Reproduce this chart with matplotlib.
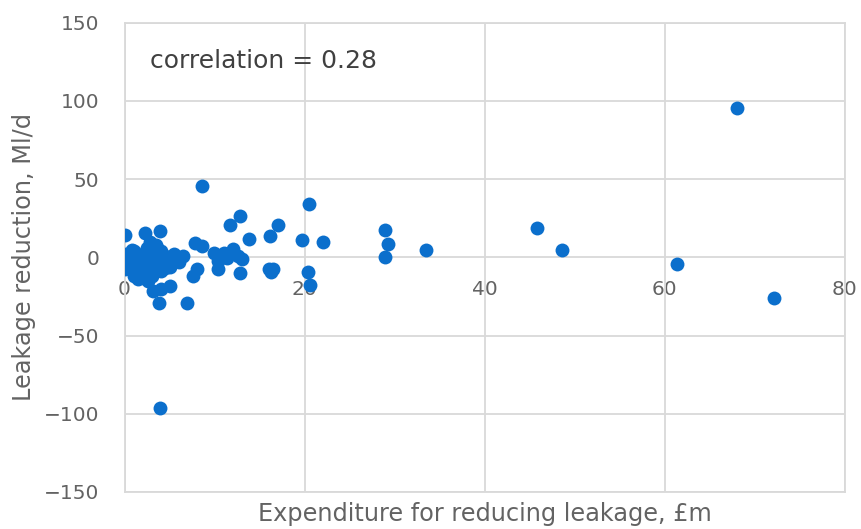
import matplotlib
matplotlib.use('Agg')
import matplotlib.pyplot as plt

# expenditure (GBP m) and leakage reduction (Ml/d)
spend = [20.5, 17.1, 16.2, 19.7, 22.0, 28.9, 29.3, 28.9, 33.5, 45.8, 48.6,
         16.5, 16.3, 20.4, 20.6, 68.0, 61.4, 72.2,
         8.6, 3.9, 12.8, 11.7, 13.8, 0.0, 2.3, 3.9, 7.8, 8.6, 6.5,
         9.9, 11.0, 12.1, 12.6, 10.4, 11.4, 13.0,
         8.0, 7.6, 10.4, 12.8, 16.0,
         3.2, 5.0, 3.8, 6.9, 4.1, 0.0,
         0.2, 0.5, 0.3, 1.0, 1.5, 1.2, 2.0, 2.0, 2.5, 2.5, 3.0, 3.0, 3.0,
         3.5, 3.5, 4.0, 4.0, 4.5, 5.0, 5.0, 5.5, 1.8, 2.2, 1.5, 3.0, 4.0,
         0.8, 2.8, 6.0, 4.5, 1.0, 2.6, 0.4, 3.6]
reduction = [34.4, 20.4, 13.8, 11.1, 10.0, 17.4, 8.3, 0.5, 4.7, 18.6, 4.7,
             -7.2, -9.5, -9.4, -17.8, 95.3, -4.5, -26.0,
             45.4, -96.4, 26.3, 21.0, 11.5, 14.6, 15.7, 16.8, 9.4, 7.2, 0.8,
             3.0, 3.0, 5.1, 0.8, -2.4, -0.2, -1.3,
             -7.6, -11.9, -7.6, -9.7, -7.6,
             -21.5, -18.0, -29.0, -28.9, -20.4, -7.6,
             2.0, -2.0, -5.0, 4.0, 0.0, -6.0, 2.0, -3.0, 6.0, -8.0, 0.0, 3.0, -5.0,
             8.0, -2.0, 4.0, -4.0, 1.0, -1.0, -6.0, 2.0, -10.0, -13.0, -14.0, -12.0, -9.0,
             5.0, 10.0, -3.0, -7.0, -12.0, -15.0, -3.0, 6.0]

x_ticks = [0, 20, 40, 60, 80]
y_ticks = [-150, -100, -50, 0, 50, 100, 150]

grey = '#d9d9d9'
text_grey = '#636363'

plt.rcParams['font.family'] = ['DejaVu Sans']

fig = plt.figure(figsize=(8.61, 5.29), dpi=100)
ax = fig.add_axes([0.1446, 0.07, 0.8364, 0.887])

ax.scatter(spend, reduction, s=100, color='#0B6FCC', zorder=3, linewidths=0)

ax.set_xlim(0, 80)
ax.set_ylim(-150, 150)
ax.set_xticks(x_ticks)
ax.set_yticks(y_ticks)
ax.grid(True, color=grey, linewidth=1.3, zorder=0)

for side in ['top', 'left', 'right', 'bottom']:
    ax.spines[side].set_color(grey)
    ax.spines[side].set_linewidth(1.3)

# x tick labels sit under the zero line, as in the original
ax.tick_params(axis='x', length=0, labelbottom=False)
ax.tick_params(axis='y', length=0, pad=18, labelsize=14.5, labelcolor=text_grey)
sec = ax.secondary_xaxis(0.5)
sec.set_xticks(x_ticks)
sec.xaxis.set_ticks_position('bottom')
sec.tick_params(length=0, pad=16, labelsize=14.5, labelcolor=text_grey,
                labelbottom=True, labeltop=False)
for side in sec.spines:
    sec.spines[side].set_visible(False)

ax.set_xlabel('Expenditure for reducing leakage, £m', fontsize=17.3,
              color=text_grey)
ax.xaxis.set_label_coords(0.5, -0.022)
ax.set_ylabel('Leakage reduction, Ml/d', fontsize=17.3, color=text_grey)
ax.yaxis.set_label_coords(-0.123, 0.5)

ax.text(0.035, 0.918, 'correlation = 0.28', transform=ax.transAxes,
        fontsize=18, color='#404040', va='center', ha='left')

fig.savefig('out.png', dpi=100)
